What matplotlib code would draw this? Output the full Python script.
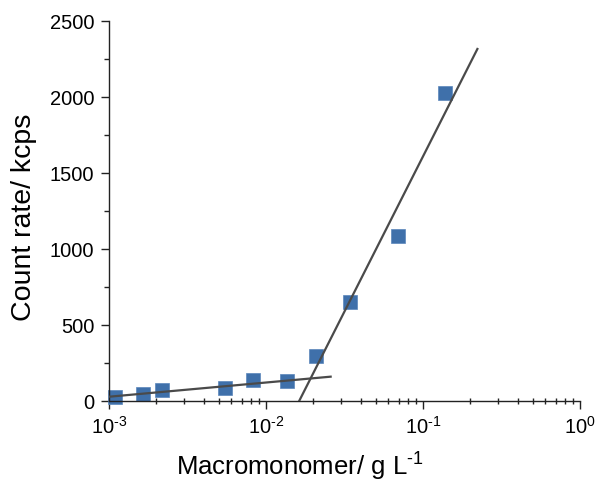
import matplotlib
matplotlib.use("Agg")
import matplotlib.pyplot as plt
import matplotlib.ticker as mticker
import numpy as np

plt.rcParams["font.family"] = ["Liberation Sans", "DejaVu Sans"]
plt.rcParams["mathtext.fontset"] = "custom"
plt.rcParams["mathtext.rm"] = "Liberation Sans"
plt.rcParams["mathtext.it"] = "Liberation Sans:italic"

# measured points
conc = [1.09e-3, 1.64e-3, 2.18e-3, 5.48e-3, 8.22e-3, 0.0137, 0.0208, 0.0344, 0.069, 0.138]
count_rate = [26, 44, 72, 81, 136, 127, 296, 647, 1081, 2026]

# the two fitted lines (end points)
low_fit_x = [1.0e-3, 0.0258]
low_fit_y = [26, 158]
high_fit_x = [0.0163, 0.222]
high_fit_y = [0, 2314]

fig = plt.figure(figsize=(6, 4.81), dpi=100)
ax = fig.add_axes([0.1817, 0.1649, 0.785, 0.79])

ax.plot(low_fit_x, low_fit_y, color="#4a4a4a", lw=1.6, zorder=3)
ax.plot(high_fit_x, high_fit_y, color="#4a4a4a", lw=1.6, zorder=3)
ax.plot(conc, count_rate, ls="none", marker="s", ms=10, color="#3f70aa",
        mec="#5a86bb", mew=0.5, clip_on=False, zorder=2)

ax.set_xscale("log")
ax.set_xlim(1e-3, 1)
ax.set_ylim(0, 2500)
ax.set_yticks(np.arange(0, 2501, 500))
ax.yaxis.set_minor_locator(mticker.MultipleLocator(250))
ax.xaxis.set_major_locator(mticker.LogLocator(base=10))
ax.xaxis.set_minor_locator(mticker.LogLocator(base=10, subs=np.arange(2, 10)))
ax.xaxis.set_minor_formatter(mticker.NullFormatter())


def decade(v, pos):
    e = int(round(np.log10(v)))
    if e < 0:
        return r"$\mathregular{10^{\text{-}%d}}$" % -e
    return r"$\mathregular{10^{%d}}$" % e


ax.xaxis.set_major_formatter(mticker.FuncFormatter(decade))

for side in ["top", "right"]:
    ax.spines[side].set_visible(False)
for side in ["left", "bottom"]:
    ax.spines[side].set_linewidth(1.0)
    ax.spines[side].set_color("#222222")

ax.tick_params(axis="both", which="major", labelsize=14.5, length=5.5, width=1.0,
               direction="out", color="#222222", pad=5)
ax.tick_params(axis="y", which="minor", length=3.5, width=1.0, direction="out", color="#222222")
ax.tick_params(axis="x", which="minor", length=4, width=1.0, direction="inout", color="#222222")

ax.set_xlabel(r"Macromonomer/ g L$^{\mathregular{\text{-}1}}$", fontsize=18.5, va="top")
ax.xaxis.set_label_coords(0.405, -0.128)
ax.set_ylabel("Count rate/ kcps", fontsize=20.5, va="center")
ax.yaxis.set_label_coords(-0.18, 0.486)

fig.savefig("out.png", dpi=100)
